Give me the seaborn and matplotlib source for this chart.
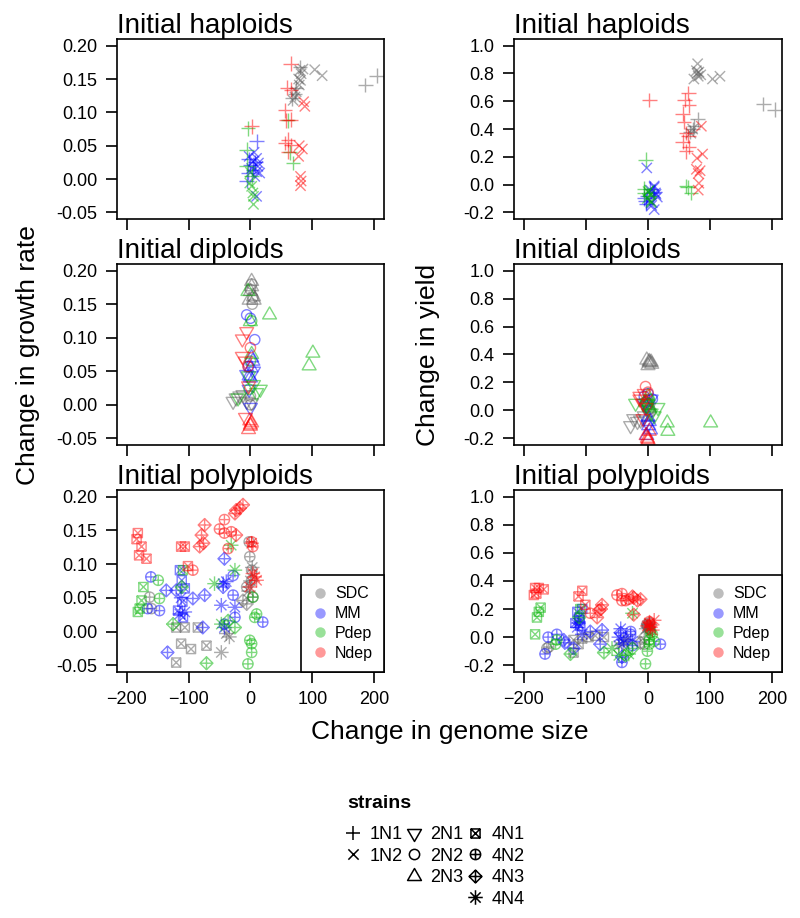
import numpy as np
import pandas as pd
import matplotlib
matplotlib.use("Agg")
import matplotlib.pyplot as plt
from matplotlib.path import Path
from matplotlib.lines import Line2D
import seaborn as sns

nan = np.nan

# --- media and strains ---
media = ["SDC", "MM", "Pdep", "Ndep"]
media_colors = ["#5a5a5a", "#0000ff", "#00b400", "#ff0000"]
strains = ["1N1", "1N2", "2N1", "2N2", "2N3", "4N1", "4N2", "4N3", "4N4"]

# --- initial haploids: (medium, strain) groups, genome size / growth rate / yield changes ---
hap_groups = [("SDC", "1N1"), ("SDC", "1N2"), ("MM", "1N1"), ("MM", "1N2"),
              ("Pdep", "1N1"), ("Pdep", "1N2"), ("Ndep", "1N1"), ("Ndep", "1N2")]
hap_size = [
    [80, 74, 72, 68, 186, 204],
    [80, 82, 81, 79, 74, 72, 69, 104, 116, 85, 78],
    [10, -6, -1, -4, 4, -3, 8],
    [10, 4, 12, 10, 15, -2, 2, 7, 10, 6, 13],
    [-4, 61, 64, 69, -6, -6, 2],
    [2, 4, 5, -1, 5, 0],
    [2, 65, 59, 66, 56, 58, 65, 61, 56, 66, 61],
    [86, 88, 79, 78, 81, 82, 81, 84],
]
hap_rate = [
    [.168, .136, .128, .121, .141, .155],
    [.163, .158, .148, .141, .131, .123, .118, .164, .155, .165, .150],
    [.057, -.003, .021, .009, .014, .030, .025],
    [.031, .026, .019, .011, .009, .034, .016, .004, -.026, .040, .024],
    [.076, .088, .040, .024, .044, .020, .004],
    [-.011, -.021, -.038, -.006, -.026, .010],
    [.079, .173, .137, .134, .103, .088, .089, .059, .054, .051, .041],
    [.116, .109, .050, .034, .004, -.003, -.010, .045],
]
hap_yield = [
    [.47, .42, .40, .38, .58, .54],
    [.87, .81, .78, .80, .76, .40, .37, .76, .78, .79, .82],
    [-.05, -.10, -.08, -.12, -.03, -.14, -.06],
    [-.01, -.04, -.06, -.02, -.09, .12, -.11, -.13, -.18, -.15, -.07],
    [.18, -.01, -.02, -.06, -.03, -.06, -.08],
    [-.04, -.07, -.13, -.10, -.12, -.05],
    [.61, .66, .61, .57, .51, .45, .35, .37, .31, .27, .24],
    [.42, .22, .19, .11, .08, .01, -.04, .10],
]

# --- initial diploids ---
dip_groups = [("SDC", "2N1"), ("SDC", "2N2"), ("SDC", "2N3"),
              ("MM", "2N1"), ("MM", "2N2"), ("MM", "2N3"),
              ("Pdep", "2N1"), ("Pdep", "2N2"), ("Pdep", "2N3"),
              ("Ndep", "2N1"), ("Ndep", "2N2"), ("Ndep", "2N3")]
dip_size = [
    [-28, -23, -17, -12, -6, 2],
    [2, 0, 4, 0, 0, 3],
    [2, 2, 0, 5, -2, 6],
    [-6, 5, 0, -2],
    [-6, 0, 7, -3],
    [2, 4, -2, 0, 1],
    [16, 10, -3, 5, -20],
    [0, -2, 2],
    [31, 101, 95, 32, -4, 0, 2],
    [-13, -6, -13, -8, -8, -3],
    [-4, 0],
    [-1, 0, -3, 2, 0],
]
dip_rate = [
    [.005, .010, .013, .015, .005, .003],
    [.180, .172, .160, .013, .000, .150],
    [.184, .176, .169, .161, .156, .156],
    [.045, .050, -.004, .023],
    [.134, .129, .097, .057],
    [.070, .065, .043, .040, .055],
    [.023, .018, .043, .030, .010],
    [.065, .023, .125],
    [.134, .077, .058, nan, .169, .124, .075],
    [.098, .109, .072, .065, -.019, .028],
    [.057, .085],
    [-.024, -.032, -.037, -.027, -.030],
]
dip_yield = [
    [-.11, -.06, -.08, -.07, -.04, -.02],
    [.01, .04, -.01, .07, .00, .05],
    [.35, .34, .32, .345, .36, .33],
    [.05, .08, -.10, .03],
    [.10, .12, .08, .06],
    [-.08, -.14, -.18, -.05, -.11],
    [.02, -.04, .05, -.02, .05],
    [.05, .02, .08],
    [-.09, -.09, nan, -.15, .06, .10, .03],
    [.10, .12, .08, .05, -.06, .02],
    [.17, .13],
    [-.20, -.22, -.18, -.15, -.21],
]

# --- initial polyploids ---
poly_groups = [("SDC", "4N1"), ("SDC", "4N2"), ("SDC", "4N3"), ("SDC", "4N4"),
               ("MM", "4N1"), ("MM", "4N2"), ("MM", "4N3"), ("MM", "4N4"),
               ("Pdep", "4N1"), ("Pdep", "4N2"), ("Pdep", "4N3"), ("Pdep", "4N4"),
               ("Ndep", "4N1"), ("Ndep", "4N2"), ("Ndep", "4N3"), ("Ndep", "4N4")]
poly_size = [
    [-120, -106, -85, -112, -96, -71, -120],
    [-2, -1, 2, 2, -6, -163, -160, 4],
    [-6, -12],
    [-47, -34, -39, 0, 3, -3],
    [-114, -106, -111, -117, -110, -109],
    [-161, -166, -147, -28, -25, 20, -42, -28],
    [-136, -120, -93, -74, -77, -134, -42, -44],
    [-114, -106, -44, -39, -47, -42, -25, -112],
    [-173, -176, -179, -182, -109],
    [-149, -147, -1, 2, 2, -4, 4, 7, 10],
    [-125, -111, -71, -36, -25],
    [-58, -25, -31, -47],
    [-182, -184, -176, -180, -168, -112, -106, -101],
    [-42, -50, -42, -31, -36, -93, 2, 4],
    [-74, -79, -82, -76, -23, -12, -17, -25, -23],
    [2, 4, 10, -1, 7],
]
poly_rate = [
    [.006, .006, .006, -.018, -.026, -.021, -.046],
    [.133, .111, .091, .076, .066, .051, .034, .051],
    [.041, .046],
    [-.031, -.008, -.003, .075, .095, .060],
    [.091, .064, .076, .031, .044, .021],
    [.081, .034, .031, .054, .021, .014, .011, .083],
    [.061, .061, .049, .054, .006, -.031, .108, .066],
    [.026, .029, .071, .074, .039, .006, .036, .050],
    [.066, .046, .034, .029, .091],
    [.076, .049, -.013, -.018, -.031, -.048, .051, .021, .026],
    [.011, .066, -.047, .016, .006],
    [.071, .091, .128, .011],
    [.146, .137, .126, .113, .108, .126, .126, .097],
    [.166, .152, .146, .148, .123, .091, .133, .126],
    [.158, .143, .126, .131, .180, .188, .183, .175, .143],
    [.131, .086, .076, .066, .081],
]
poly_yield = [
    [-.02, -.01, .01, -.05, .00, .00, -.11],
    [.09, .08, .10, .06, -.05, -.08, -.07, .05],
    [.00, -.04],
    [-.06, -.02, -.04, .07, .09, .06],
    [.18, .20, .14, .10, .12, .08],
    [.00, -.12, .02, .04, -.06, -.05, -.18, .02],
    [-.02, -.08, .04, .05, -.05, -.04, -.14, .03],
    [.07, .02, .06, -.02, .00, -.05, -.03, .10],
    [.21, .18, .14, .02, .20],
    [-.05, -.02, -.10, -.02, -.05, -.19, .03, .02, -.03],
    [-.12, .14, -.11, -.13, -.08],
    [-.08, .17, -.12, -.13],
    [.35, .30, .35, .31, .34, .29, .33, .23],
    [.31, .30, .26, .27, .26, .17, .11, .09],
    [.23, .19, .14, .20, .28, .27, .26, .29, .16],
    [.10, .07, .12, .08, .05],
]

rate_ticks = [-0.05, 0.0, 0.05, 0.10, 0.15, 0.20]
yield_ticks = [-0.2, 0.0, 0.2, 0.4, 0.6, 0.8, 1.0]
size_ticks = [-200, -100, 0, 100, 200]


def to_frame(groups, size, rate, yld):
    rows = []
    for (med, st), xs, rs, ys in zip(groups, size, rate, yld, strict=True):
        for x, r, y in zip(xs, rs, ys, strict=True):
            rows.append((med, st, x, r, y))
    return pd.DataFrame(rows, columns=["medium", "strain", "size", "rate", "yield"])


# R-like point symbols built as line-art paths (unit = symbol radius)
def symbol(lines=(), poly=None, circle=False):
    verts, codes = [], []
    if circle:
        c = Path.unit_circle()
        verts += list(c.vertices)
        codes += list(c.codes)
    if poly is not None:
        verts += list(poly) + [poly[0]]
        codes += [Path.MOVETO] + [Path.LINETO] * (len(poly) - 1) + [Path.CLOSEPOLY]
    for a, b in lines:
        verts += [a, b]
        codes += [Path.MOVETO, Path.LINETO]
    return Path(verts, codes)


r2 = np.sqrt(2)
sq = 0.886
dm = 1.253
plus_l = [((-r2, 0), (r2, 0)), ((0, -r2), (0, r2))]
cross_l = [((-1, -1), (1, 1)), ((-1, 1), (1, -1))]
strain_marker = {
    "1N1": symbol(plus_l),
    "1N2": symbol(cross_l),
    "2N1": symbol(poly=[(0, -1.555), (1.347, 0.778), (-1.347, 0.778)]),
    "2N2": symbol(circle=True),
    "2N3": symbol(poly=[(0, 1.555), (1.347, -0.778), (-1.347, -0.778)]),
    "4N1": symbol([((-sq, -sq), (sq, sq)), ((-sq, sq), (sq, -sq))],
                  poly=[(-sq, -sq), (sq, -sq), (sq, sq), (-sq, sq)]),
    "4N2": symbol([((-1, 0), (1, 0)), ((0, -1), (0, 1))], circle=True),
    "4N3": symbol([((-dm, 0), (dm, 0)), ((0, -dm), (0, dm))],
                  poly=[(0, -dm), (dm, 0), (0, dm), (-dm, 0)]),
    "4N4": symbol(plus_l + cross_l),
}
UNIT = 3.7  # points per symbol radius
strain_msize = {k: 2 * np.abs(p.vertices).max() * UNIT for k, p in strain_marker.items()}

sns.set_theme(style="ticks")
plt.rcParams["font.family"] = ["Liberation Sans", "DejaVu Sans"]
plt.rcParams.update({"axes.linewidth": 1.2, "axes.edgecolor": "black",
                     "text.color": "black", "axes.labelcolor": "black",
                     "xtick.color": "black", "ytick.color": "black"})

fig = plt.figure(figsize=(8, 9.18), dpi=100)
rows = [
    ("Initial haploids", to_frame(hap_groups, hap_size, hap_rate, hap_yield), 0.7614, 0.1961),
    ("Initial diploids", to_frame(dip_groups, dip_size, dip_rate, dip_yield), 0.5153, 0.1972),
    ("Initial polyploids", to_frame(poly_groups, poly_size, poly_rate, poly_yield), 0.2680, 0.1983),
]
col_pos = [(0.146, 0.334, "rate", rate_ticks, (-0.06, 0.21), "%.2f"),
           (0.6425, 0.335, "yield", yield_ticks, (-0.248, 1.048), "%.1f")]
color_of = dict(zip(media, media_colors))

for i, (title, df, bottom, height) in enumerate(rows):
    for left, width, ycol, yt, ylim, fmt in col_pos:
        ax = fig.add_axes([left, bottom, width, height])
        for (med, st), sub in df.groupby(["medium", "strain"], sort=False):
            c = color_of[med]
            sns.scatterplot(data=sub, x="size", y=ycol, ax=ax,
                            marker=strain_marker[st], s=strain_msize[st] ** 2,
                            color=c, facecolor="none", edgecolor=c,
                            linewidth=1.0, alpha=0.5, legend=False)
        ax.set(xlabel="", ylabel="")
        ax.set_xlim(-216, 216)
        ax.set_ylim(*ylim)
        ax.set_xticks(size_ticks)
        ax.set_yticks(yt)
        ax.set_yticklabels([fmt % v for v in yt])
        ax.tick_params(direction="out", length=8, width=1.2, labelsize=13,
                       pad=6, color="black", labelcolor="black")
        ax.tick_params(axis="x", labelbottom=(i == 2))
        for sp in ax.spines.values():
            sp.set_visible(True)
            sp.set_linewidth(1.2)
        ax.set_title(title, loc="left", fontsize=20, pad=3, color="black")
        if i == 2:
            handles = [Line2D([], [], marker="o", linestyle="none", markersize=7.5,
                              markerfacecolor=c, markeredgecolor="none", alpha=0.4)
                       for c in media_colors]
            leg = ax.legend(handles, media, loc="lower right", borderaxespad=0,
                            frameon=True, fancybox=False, edgecolor="black",
                            framealpha=1, fontsize=11.5, handlelength=0.9,
                            handletextpad=0.5, borderpad=0.7, labelspacing=0.3)
            leg.get_frame().set_linewidth(1.2)

fig.text(28 / 800, 1 - 355 / 918, "Change in growth rate", rotation=90,
         ha="center", va="center", fontsize=19)
fig.text(428 / 800, 1 - 355 / 918, "Change in yield", rotation=90,
         ha="center", va="center", fontsize=19)
fig.text(450 / 800, 1 - 732 / 918, "Change in genome size",
         ha="center", va="center", fontsize=19)

# strain symbol key
fig.text(347 / 800, 1 - 803 / 918, "strains", fontsize=14, fontweight="bold",
         ha="left", va="center")
blank = Line2D([], [], linestyle="none")
key_handles, key_labels = [], []
for col in [["1N1", "1N2", None, None], ["2N1", "2N2", "2N3", None],
            ["4N1", "4N2", "4N3", "4N4"]]:
    for st in col:
        if st is None:
            key_handles.append(blank)
            key_labels.append("")
        else:
            key_handles.append(Line2D([], [], linestyle="none", marker=strain_marker[st],
                                      markersize=strain_msize[st], markerfacecolor="none",
                                      markeredgecolor="black", markeredgewidth=1.1))
            key_labels.append(st)
fig.legend(key_handles, key_labels, ncol=3, loc="upper left",
           bbox_to_anchor=(336 / 800, 1 - 817 / 918), frameon=False,
           fontsize=13, handlelength=0.9, handletextpad=0.45, columnspacing=0.2,
           labelspacing=0.25, borderpad=0)

fig.savefig("out.png", dpi=100)
